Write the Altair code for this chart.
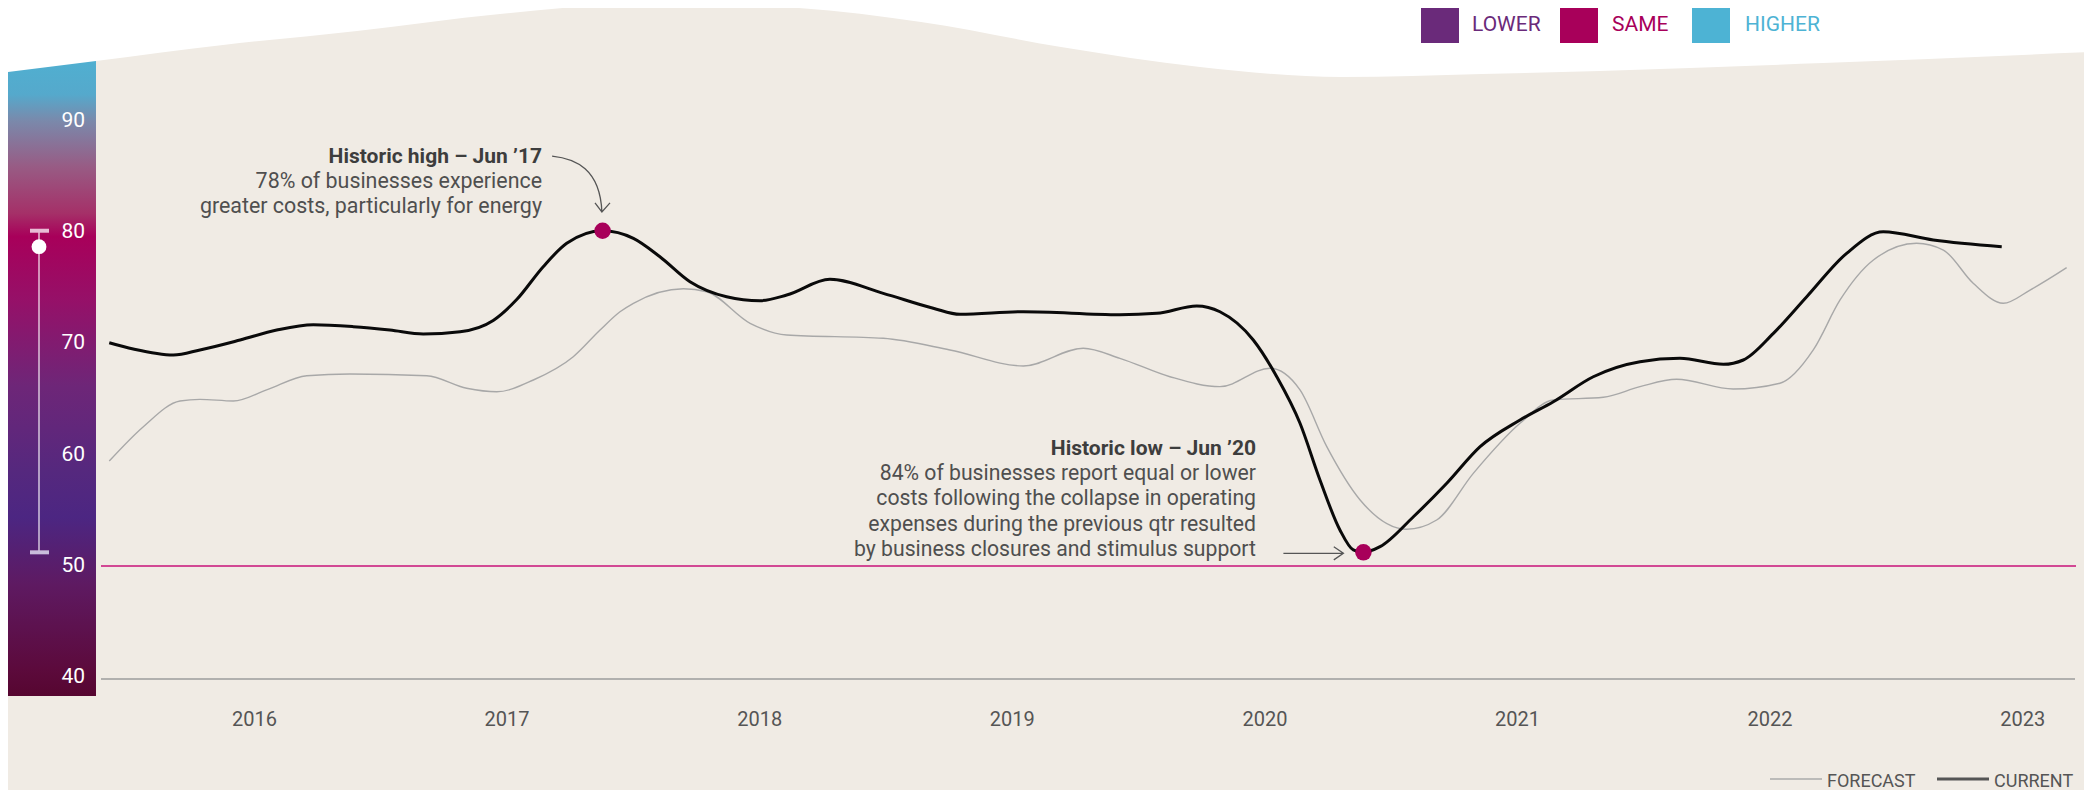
import altair as alt
import pandas as pd

# ---------------- data ----------------
cur_year = [2015.425, 2015.520, 2015.679, 2015.784, 2015.943, 2016.088, 2016.233, 2016.391,
            2016.536, 2016.668, 2016.814, 2016.945, 2017.038, 2017.143, 2017.236, 2017.378,
            2017.500, 2017.605, 2017.724, 2017.869, 2018.001, 2018.107, 2018.278, 2018.489,
            2018.687, 2018.793, 2019.044, 2019.426, 2019.572, 2019.730, 2019.822, 2019.954,
            2020.047, 2020.139, 2020.218, 2020.297, 2020.350, 2020.390, 2020.456, 2020.588,
            2020.720, 2020.852, 2021.010, 2021.142, 2021.300, 2021.485, 2021.643, 2021.815,
            2021.894, 2022.013, 2022.145, 2022.303, 2022.448, 2022.646, 2022.917]
cur_val = [69.76, 69.20, 68.67, 69.12, 70.00, 70.88, 71.35, 71.18,
           70.88, 70.53, 70.73, 71.73, 73.58, 76.49, 78.56, 79.67,
           79.00, 77.37, 75.16, 73.83, 73.48, 73.98, 75.37, 74.13,
           72.81, 72.27, 72.50, 72.24, 72.36, 73.01, 72.50, 70.00,
           66.75, 62.63, 57.61, 53.19, 51.42, 51.21, 51.71, 54.36,
           57.32, 60.56, 62.92, 64.54, 66.75, 68.08, 68.38, 67.85,
           68.23, 70.59, 73.83, 77.67, 79.58, 78.85, 78.26]

fc_year = [2015.425, 2015.560, 2015.705, 2015.784, 2015.916, 2016.048, 2016.207, 2016.378,
           2016.682, 2016.840, 2016.959, 2017.104, 2017.262, 2017.368, 2017.447, 2017.500,
           2017.698, 2017.790, 2017.962, 2018.107, 2018.489, 2018.753, 2019.044, 2019.281,
           2019.426, 2019.624, 2019.822, 2020.020, 2020.139, 2020.245, 2020.377, 2020.561,
           2020.680, 2020.825, 2021.010, 2021.142, 2021.340, 2021.485, 2021.630, 2021.854,
           2022.039, 2022.171, 2022.277, 2022.409, 2022.580, 2022.686, 2022.804, 2022.923,
           2023.029, 2023.174]
fc_val = [59.29, 62.33, 64.60, 64.75, 64.60, 65.58, 66.84, 66.99,
          66.84, 65.73, 65.42, 66.46, 68.52, 70.88, 72.50, 73.25,
          74.54, 74.27, 71.48, 70.44, 70.15, 69.12, 67.70, 69.27,
          68.38, 66.75, 65.87, 67.50, 65.58, 60.56, 55.84, 53.25,
          54.07, 58.20, 62.63, 64.69, 64.93, 65.87, 66.52, 65.66,
          66.17, 69.12, 73.54, 77.08, 78.56, 77.96, 75.02, 73.25,
          74.42, 76.40]

peak_year = [2017.378, 2020.390]
peak_val = [79.67, 51.21]

year_ticks = [2016, 2017, 2018, 2019, 2020, 2021, 2022, 2023]
value_ticks = [40, 50, 60, 70, 80, 90]

legend_labels = ["LOWER", "SAME", "HIGHER"]
legend_colors = ["#6a2a7a", "#a8005a", "#4db3d4"]

hi_title = "Historic high \u2013 Jun \u201917"
hi_lines = ["78% of businesses experience", "greater costs, particularly for energy"]
lo_title = "Historic low \u2013 Jun \u201920"
lo_lines = ["84% of businesses report equal or lower",
            "costs following the collapse in operating",
            "expenses during the previous qtr resulted",
            "by business closures and stimulus support"]

# decorative wavy top edge of the beige panel
wave_year = [2014.9925, 2015.3725, 2015.8753, 2016.4058, 2016.9719, 2017.5261, 2018.0804,
             2018.6386, 2019.1928, 2019.7431, 2020.3052, 2020.8595, 2021.3266, 2022.2094, 2023.2743]
wave_val = [93.63, 94.69, 96.11, 97.35, 98.85, 99.73, 99.47,
            98.14, 95.93, 94.16, 93.27, 93.54, 93.81, 94.51, 95.49]

# ---------------- chart ----------------
W, H = 2076, 782
F = "Roboto"
Y_TOP = 99.3805
xs = alt.Scale(domain=[2015.02415, 2023.24268], nice=False, zero=False)
ys = alt.Scale(domain=[30.177, Y_TOP], nice=False, zero=False)
# the scale printed on the colour bar is drawn slightly tighter than the plot's
ys_bar = alt.Scale(domain=[29.865, 100.157], nice=False, zero=False)


def X(f):
    return alt.X(f, type="quantitative", scale=xs, axis=None)


def Y(f, scale=ys):
    return alt.Y(f, type="quantitative", scale=scale, axis=None)


one = pd.DataFrame({"k": [0]})

cur = pd.DataFrame({"x": cur_year, "y": cur_val})
fc = pd.DataFrame({"x": fc_year, "y": fc_val})
wave = pd.DataFrame({"x": wave_year, "y": wave_val, "top": [Y_TOP + 5] * len(wave_year)})

grad = alt.LinearGradient(
    gradient="linear", x1=0, x2=0, y1=0, y2=1,
    stops=[
        alt.GradientStop(offset=0.0, color="#4cb4d4"),
        alt.GradientStop(offset=0.09, color="#55a9cc"),
        alt.GradientStop(offset=0.13, color="#7a89ab"),
        alt.GradientStop(offset=0.20, color="#985b84"),
        alt.GradientStop(offset=0.27, color="#a53068"),
        alt.GradientStop(offset=0.305, color="#a8005a"),
        alt.GradientStop(offset=0.40, color="#961068"),
        alt.GradientStop(offset=0.53, color="#6e2678"),
        alt.GradientStop(offset=0.66, color="#55287e"),
        alt.GradientStop(offset=0.73, color="#4c2682"),
        alt.GradientStop(offset=0.83, color="#5e1a62"),
        alt.GradientStop(offset=0.96, color="#5c0a3c"),
        alt.GradientStop(offset=1.0, color="#560630"),
    ],
)

colorbar = alt.Chart(pd.DataFrame({"x": [2015.02415], "x2": [2015.3725], "y": [38.5], "y2": [97.0]})).mark_rect(
    fill=grad, strokeWidth=0
).encode(x=X("x"), x2="x2:Q", y=Y("y"), y2="y2:Q")

white_top = alt.Chart(wave).mark_area(color="white", interpolate="monotone", opacity=1).encode(
    x=X("x"), y=Y("y"), y2="top:Q"
)

rng = pd.DataFrame({"lo": [min(cur_val)], "hi": [max(cur_val)]})
range_line = alt.Chart(rng).mark_rule(color="white", opacity=0.7, strokeWidth=1.6).encode(
    x=alt.value(31), y=Y("lo"), y2="hi:Q"
)
cap_top = alt.Chart(rng).mark_rule(color="#e8bcd5", strokeWidth=4).encode(
    x=alt.value(22), x2=alt.value(41), y=Y("hi")
)
cap_bot = alt.Chart(rng).mark_rule(color="#c9bcdc", strokeWidth=4).encode(
    x=alt.value(22), x2=alt.value(41), y=Y("lo")
)
now_dot = alt.Chart(pd.DataFrame({"v": [cur_val[-1]]})).mark_circle(color="white", size=220, opacity=1).encode(
    x=alt.value(31), y=Y("v")
)

ylabels = alt.Chart(pd.DataFrame({"v": value_ticks})).mark_text(
    align="right", baseline="middle", color="white", fontSize=21, font=F
).encode(x=alt.value(77), y=Y("v", ys_bar), text=alt.Text("v:Q", format="d"))

baseline = alt.Chart(pd.DataFrame({"v": [40]})).mark_rule(color="#9d9d9d", strokeWidth=1.5).encode(
    x=alt.value(93), x2=alt.value(2067), y=Y("v")
)
fifty = alt.Chart(pd.DataFrame({"v": [50]})).mark_rule(color="#c8127a", strokeWidth=1.5).encode(
    x=alt.value(93), x2=alt.value(2068), y=Y("v")
)

xlabels = alt.Chart(pd.DataFrame({"year": year_ticks})).mark_text(
    baseline="middle", align="center", color="#555555", fontSize=20, font=F
).encode(x=X("year"), y=alt.value(712), text=alt.Text("year:Q", format="d"))

fc_line = alt.Chart(fc).mark_line(color="#a8a8a8", strokeWidth=1.4, interpolate="monotone").encode(
    x=X("x"), y=Y("y")
)
cur_line = alt.Chart(cur).mark_line(color="#0a0a0a", strokeWidth=3, interpolate="monotone").encode(
    x=X("x"), y=Y("y")
)
dots = alt.Chart(pd.DataFrame({"x": peak_year, "y": peak_val})).mark_circle(
    color="#a8005a", size=270, opacity=1
).encode(x=X("x"), y=Y("y"))

# annotations
hi_t = alt.Chart(pd.DataFrame({"x": [2017.1382], "y": [85.664]})).mark_text(
    align="right", baseline="alphabetic", fontSize=21, font=F, fontWeight="bold", color="#3d3d3d"
).encode(x=X("x"), y=Y("y"), text=alt.value(hi_title))
hi_b = alt.Chart(pd.DataFrame({"x": [2017.1382], "y": [83.451]})).mark_text(
    align="right", baseline="alphabetic", fontSize=21.4, font=F, color="#4f4f4f", lineHeight=25
).encode(x=X("x"), y=Y("y"), text=alt.value(hi_lines))
lo_t = alt.Chart(pd.DataFrame({"x": [2019.9648], "y": [59.823]})).mark_text(
    align="right", baseline="alphabetic", fontSize=21, font=F, fontWeight="bold", color="#3d3d3d"
).encode(x=X("x"), y=Y("y"), text=alt.value(lo_title))
lo_b = alt.Chart(pd.DataFrame({"x": [2019.9648], "y": [57.611]})).mark_text(
    align="right", baseline="alphabetic", fontSize=21.2, font=F, color="#4f4f4f", lineHeight=25.5
).encode(x=X("x"), y=Y("y"), text=alt.value(lo_lines))

hi_arrow = alt.Chart(pd.DataFrame({"x": [2017.2945], "y": [83.805]})).mark_point(
    shape="M-0.98,-0.93 C-0.2,-0.85 0.62,-0.5 0.68,0.93 M0.45,0.63 L0.68,0.93 L0.95,0.63",
    size=3600, filled=False, stroke="#555555", strokeWidth=1.3, opacity=1
).encode(x=X("x"), y=Y("y"))
lo_arrow = alt.Chart(pd.DataFrame({"x": [2020.1920], "y": [51.124]})).mark_point(
    shape="M-1,0 L1,0 M0.68,-0.22 L1,0 L0.68,0.22",
    size=3600, filled=False, stroke="#555555", strokeWidth=1.3, opacity=1
).encode(x=X("x"), y=Y("y"))

# top legend
sq_x = [1413, 1552, 1684]
tx_x = [1464, 1604, 1737]
legend_layers = []
for lab, col, sx, tx in zip(legend_labels, legend_colors, sq_x, tx_x):
    legend_layers.append(
        alt.Chart(one).mark_rect(color=col).encode(
            x=alt.value(sx), x2=alt.value(sx + 38), y=alt.value(0), y2=alt.value(35)
        )
    )
    legend_layers.append(
        alt.Chart(one).mark_text(align="left", baseline="middle", color=col, fontSize=21, font=F).encode(
            x=alt.value(tx), y=alt.value(17), text=alt.value(lab)
        )
    )

# bottom legend
bl = [
    alt.Chart(one).mark_rule(color="#ababab", strokeWidth=1.5).encode(
        x=alt.value(1762), x2=alt.value(1814), y=alt.value(771)),
    alt.Chart(one).mark_text(align="left", baseline="alphabetic", color="#555555", fontSize=18, font=F).encode(
        x=alt.value(1819), y=alt.value(779), text=alt.value("FORECAST")),
    alt.Chart(one).mark_rule(color="#555555", strokeWidth=3).encode(
        x=alt.value(1929), x2=alt.value(1981), y=alt.value(771)),
    alt.Chart(one).mark_text(align="left", baseline="alphabetic", color="#555555", fontSize=18, font=F).encode(
        x=alt.value(1986), y=alt.value(779), text=alt.value("CURRENT")),
]

chart = alt.layer(
    colorbar, white_top, range_line, cap_top, cap_bot, now_dot, ylabels,
    baseline, fifty, xlabels, fc_line, cur_line, dots,
    hi_t, hi_b, lo_t, lo_b, hi_arrow, lo_arrow,
    *legend_layers, *bl
).resolve_scale(y="independent").properties(
    width=W, height=H, padding=0, background="#f0ebe4",
    autosize=alt.AutoSizeParams(type="none")
).configure_view(strokeWidth=0)

chart.save("out.html", embed_options={"renderer": "svg", "actions": False})
